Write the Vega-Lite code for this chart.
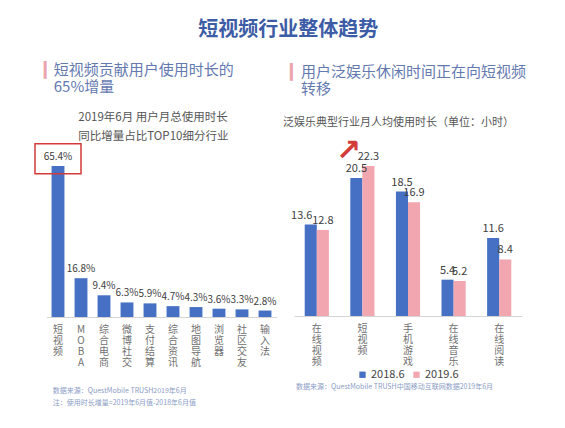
{
  "$schema": "https://vega.github.io/schema/vega-lite/v6.json",
  "background": "white",
  "padding": {"left": 33.5, "top": 19, "right": 5, "bottom": 5},
  "title": {
    "text": "短视频行业整体趋势",
    "fontSize": 20,
    "fontWeight": "bold",
    "color": "#3d5ca6",
    "anchor": "middle",
    "dx": 8,
    "offset": 23
  },
  "config": {
    "font": "Noto Sans CJK SC",
    "view": {"stroke": null},
    "axis": {"grid": false},
    "legend": {"layout": {"bottom": {"anchor": "middle"}}}
  },
  "spacing": 5.5,
  "resolve": {"scale": {"color": "independent"}},
  "hconcat": [
    {
      "title": {"text": "▎", "orient": "left", "angle": 0, "anchor": "end", "color": "#eba3ad", "font": "DejaVu Sans", "fontSize": 15, "offset": 0, "dx": 32.5},
      "vconcat": [
        {
          "title": {"text": ["短视频贡献用户使用时长的", "65%增量"], "anchor": "start", "fontSize": 15, "fontWeight": "normal", "color": "#6479b0", "lineHeight": 17, "offset": 17, "dx": 19.5},
          "vconcat": [
            {
              "title": {"text": ["数据来源：QuestMobile TRUSH2019年6月", "注：使用时长增量=2019年6月值-2018年6月值"], "orient": "bottom", "anchor": "start", "fontSize": 7, "fontWeight": "normal", "color": "#8b9cc6", "lineHeight": 12, "offset": 20, "dx": 18.5},
              "vconcat": [
                {
                  "title": {"text": ["2019年6月 用户月总使用时长", "同比增量占比TOP10细分行业"], "anchor": "start", "dx": 44, "fontSize": 11.5, "fontWeight": "normal", "color": "#555555", "lineHeight": 19, "offset": 1},
                  "width": 230,
                  "height": 151,
                  "data": {
                    "values": [
                      {"industry": "短视频", "share": 0.654},
                      {"industry": "MOBA", "share": 0.168},
                      {"industry": "综合电商", "share": 0.094},
                      {"industry": "微博社交", "share": 0.063},
                      {"industry": "支付结算", "share": 0.059},
                      {"industry": "综合资讯", "share": 0.047},
                      {"industry": "地图导航", "share": 0.043},
                      {"industry": "浏览器", "share": 0.036},
                      {"industry": "社区交友", "share": 0.033},
                      {"industry": "输入法", "share": 0.028}
                    ]
                  },
                  "encoding": {
                    "x": {
                      "field": "industry",
                      "type": "nominal",
                      "sort": null,
                      "scale": {"paddingInner": 0.44, "paddingOuter": 0.22},
                      "axis": {
                        "title": null,
                        "labelAngle": 0,
                        "labelExpr": "split(datum.label, '')",
                        "labelFontSize": 10,
                        "labelLineHeight": 11,
                        "labelColor": "#707070",
                        "labelBaseline": "top",
                        "labelPadding": 7,
                        "ticks": false,
                        "domainColor": "#d4d4d4"
                      }
                    },
                    "y": {
                      "field": "share",
                      "type": "quantitative",
                      "scale": {"domain": [0, 0.654], "nice": false},
                      "axis": null
                    }
                  },
                  "layer": [
                    {"mark": {"type": "bar", "color": "#4570c3"}},
                    {
                      "mark": {"type": "text", "baseline": "bottom", "dy": -4, "fontSize": 10, "color": "#404040"},
                      "encoding": {"text": {"field": "share", "type": "quantitative", "format": ".1%"}}
                    },
                    {
                      "transform": [{"filter": "datum.industry == '短视频'"}],
                      "mark": {"type": "bar", "width": 46, "fillOpacity": 0, "stroke": "#d33a3a", "strokeWidth": 1.5, "clip": false},
                      "encoding": {"y": {"datum": 0.62}, "y2": {"datum": 0.75}}
                    }
                  ]
                }
              ]
            }
          ]
        }
      ]
    },
    {
      "title": {"text": "▎", "orient": "left", "angle": 0, "anchor": "end", "color": "#eba3ad", "font": "DejaVu Sans", "fontSize": 15, "offset": 0, "dx": 30},
      "resolve": {"scale": {"color": "independent"}},
      "vconcat": [
        {
          "title": {"text": ["用户泛娱乐休闲时间正在向短视频", "转移"], "anchor": "start", "fontSize": 15, "fontWeight": "normal", "color": "#6479b0", "lineHeight": 17, "offset": 20, "dx": 18},
          "resolve": {"scale": {"color": "independent"}},
          "vconcat": [
            {
              "title": {"text": "数据来源：QuestMobile TRUSH中国移动互联网数据2019年6月", "orient": "bottom", "anchor": "start", "fontSize": 7, "fontWeight": "normal", "color": "#8b9cc6", "offset": 3, "dx": 13},
              "resolve": {"scale": {"color": "independent"}},
              "vconcat": [
                {
                  "title": {"text": "泛娱乐典型行业月人均使用时长（单位：小时）", "anchor": "start", "dx": -8, "fontSize": 11, "fontWeight": "normal", "color": "#555555", "offset": 8},
                  "width": 228,
                  "height": 150,
                  "data": {
                    "values": [
                      {"category": "在线视频", "period": "2018.6", "hours": 13.6},
                      {"category": "在线视频", "period": "2019.6", "hours": 12.8},
                      {"category": "短视频", "period": "2018.6", "hours": 20.5},
                      {"category": "短视频", "period": "2019.6", "hours": 22.3},
                      {"category": "手机游戏", "period": "2018.6", "hours": 18.5},
                      {"category": "手机游戏", "period": "2019.6", "hours": 16.9},
                      {"category": "在线音乐", "period": "2018.6", "hours": 5.4},
                      {"category": "在线音乐", "period": "2019.6", "hours": 5.2},
                      {"category": "在线阅读", "period": "2018.6", "hours": 11.6},
                      {"category": "在线阅读", "period": "2019.6", "hours": 8.4}
                    ]
                  },
                  "encoding": {
                    "x": {
                      "field": "category",
                      "type": "nominal",
                      "sort": null,
                      "scale": {"paddingInner": 0.47, "paddingOuter": 0.235},
                      "axis": {
                        "title": null,
                        "labelAngle": 0,
                        "labelExpr": "split(datum.label, '')",
                        "labelFontSize": 10,
                        "labelLineHeight": 11,
                        "labelColor": "#707070",
                        "labelBaseline": "top",
                        "labelPadding": 7,
                        "ticks": false,
                        "domainColor": "#d4d4d4"
                      }
                    },
                    "xOffset": {"field": "period", "type": "nominal", "scale": {"paddingInner": 0}},
                    "y": {
                      "field": "hours",
                      "type": "quantitative",
                      "scale": {"domain": [0, 22.3], "nice": false},
                      "axis": null
                    }
                  },
                  "layer": [
                    {
                      "mark": {"type": "bar"},
                      "encoding": {
                        "color": {
                          "field": "period",
                          "type": "nominal",
                          "scale": {"domain": ["2018.6", "2019.6"], "range": ["#4570c3", "#f2a6b0"]},
                          "legend": {"orient": "bottom", "direction": "horizontal", "title": null, "symbolType": "square", "symbolSize": 40, "labelFontSize": 11, "labelOffset": 3, "labelColor": "#444444", "columnPadding": 6, "offset": 3}
                        }
                      }
                    },
                    {
                      "transform": [{"filter": "!(datum.category == '在线视频' && datum.period == '2018.6')"}],
                      "mark": {"type": "text", "baseline": "bottom", "dy": -4, "fontSize": 11, "color": "#404040"},
                      "encoding": {"text": {"field": "hours", "type": "quantitative", "format": ".1f"}}
                    },
                    {
                      "transform": [{"filter": "datum.category == '在线视频' && datum.period == '2018.6'"}],
                      "mark": {"type": "text", "baseline": "bottom", "dy": -4, "dx": -9, "fontSize": 11, "color": "#404040"},
                      "encoding": {"text": {"field": "hours", "type": "quantitative", "format": ".1f"}}
                    },
                    {
                      "transform": [{"filter": "datum.category == '短视频' && datum.period == '2018.6'"}],
                      "mark": {"type": "text", "text": "↗", "font": "DejaVu Sans", "fontWeight": "bold", "fontSize": 30, "color": "#d33a3a", "dx": -8, "clip": false},
                      "encoding": {"y": {"datum": 24.6}}
                    }
                  ]
                }
              ]
            }
          ]
        }
      ]
    }
  ]
}
